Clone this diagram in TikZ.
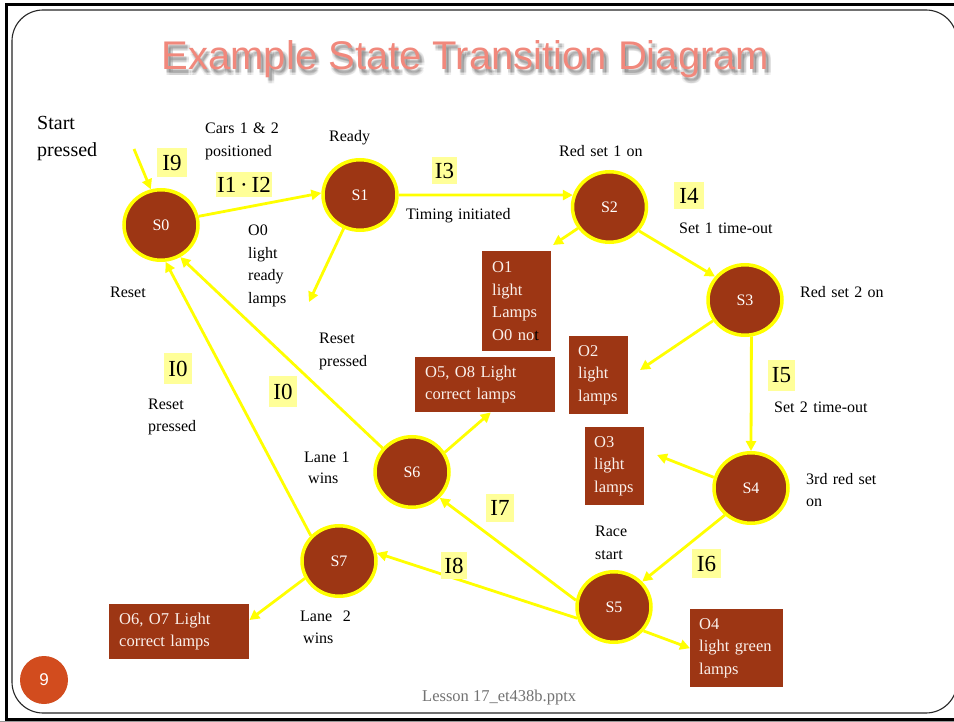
\documentclass[tikz,border=0pt]{standalone}
\usepackage{fontspec}
\setmainfont{Liberation Serif}
\newfontfamily\titlefont{Liberation Sans}
\usetikzlibrary{arrows.meta,calc,shapes.geometric}
\pgfdeclarelayer{bg}
\pgfsetlayers{bg,main}
\definecolor{stbrown}{RGB}{157,54,20}
\definecolor{arrowyellow}{RGB}{255,255,0}
\definecolor{hlyellow}{RGB}{255,255,153}
\definecolor{titlesalmon}{RGB}{241,136,124}
\definecolor{numorange}{RGB}{210,76,30}
\definecolor{boxtext}{RGB}{250,240,235}
\begin{document}
\begin{tikzpicture}[x=1pt,y=-1pt,
  state/.style={ellipse, draw=arrowyellow, line width=3.5pt, fill=stbrown,
    minimum width=74pt, minimum height=70.5pt, inner sep=0pt, text=white,
    font=\fontsize{16}{18}\selectfont},
  flow/.style={draw=arrowyellow, line width=2.8pt, -{Triangle[length=10pt,width=10pt]}},
  lbl/.style={anchor=base west, inner sep=0pt, text width=130pt, align=left,
    font=\fontsize{16}{22.5}\selectfont},
  ilbl/.style={fill=hlyellow, inner sep=0pt, font=\fontsize{23}{25}\selectfont},
  outbox/.style={fill=stbrown, anchor=north west, inner xsep=10pt, inner ysep=0pt,
    align=left, text=boxtext, font=\fontsize{16.5}{22.5}\selectfont},
  titletext/.style={anchor=base, font=\titlefont\fontsize{40}{48}\selectfont}]
\useasboundingbox (0,0) rectangle (954,722);
\begin{pgfonlayer}{bg}
\fill[white] (0,0) rectangle (954,722);
\end{pgfonlayer}
% frame
\draw[line width=3pt] (957,4.8) -- (6,4.8) -- (6,719.3) -- (957,719.3);
\draw[line width=1pt, black!40] (0,721.5) -- (957,721.5);
\draw[line width=1.1pt, draw=black!85, rounded corners=31pt] (12,10) rectangle (957,713);
% title with blurred shadow
\foreach \dx in {1.5,3,4.5}{
  \foreach \dy in {2.5,4,5.5}{
    \node[titletext, text=black, opacity=0.06] (tsh-\dx-\dy) at (465.5+\dx,70+\dy)
      {Example State Transition Diagram};
  }
}
\node[titletext, text=titlesalmon] (title) at (465.5,70) {Example State Transition Diagram};
% states
\node[state] (S0) at (161,225) {S0};
\node[state] (S1) at (360,195) {S1};
\node[state] (S2) at (609.5,207) {S2};
\node[state] (S3) at (745,300) {S3};
\node[state] (S4) at (751,488) {S4};
\node[state] (S5) at (614,607) {S5};
\node[state] (S6) at (412,472) {S6};
\node[state] (S7) at (339,561) {S7};
% output boxes
\node[outbox, text width=49pt, minimum height=100pt] (O1) at (482,251)
  {O1\\light\\Lamps\\O0 no\textcolor{black}{t}};
\node[outbox, inner xsep=9pt, text width=41pt, minimum height=78pt] (O2) at (569,336)
  {O2\\light\\lamps};
\node[outbox, text width=120pt, minimum height=55pt] (O58) at (415,357)
  {O5, O8 Light\\correct lamps};
\node[outbox, inner xsep=9pt, text width=41pt, minimum height=78pt] (O3) at (585,427)
  {O3\\light\\lamps};
\node[outbox, inner xsep=9pt, text width=75pt, minimum height=78pt] (O4) at (690,609)
  {O4\\light green\\lamps};
\node[outbox, text width=120pt, minimum height=55pt] (O67) at (109,604)
  {O6, O7 Light\\correct lamps};
% input labels
\node[ilbl, minimum width=30pt, minimum height=29pt] (I9) at (172,162.5) {I9};
\node[ilbl, minimum width=56pt, minimum height=25pt] (I12) at (244,184.5) {I1\,·\,I2};
\node[ilbl, minimum width=25pt, minimum height=27pt] (I3) at (444.5,170.5) {I3};
\node[ilbl, minimum width=30pt, minimum height=27pt] (I4) at (689,195.5) {I4};
\node[ilbl, minimum width=27pt, minimum height=31pt] (I5) at (781.5,375.5) {I5};
\node[ilbl, minimum width=29pt, minimum height=29pt] (I6) at (706.5,563.5) {I6};
\node[ilbl, minimum width=28pt, minimum height=28pt] (I7) at (500,508) {I7};
\node[ilbl, minimum width=26pt, minimum height=27pt] (I8) at (454,565.5) {I8};
\node[ilbl, minimum width=28pt, minimum height=31pt] (I0a) at (178,368.5) {I0};
\node[ilbl, minimum width=28pt, minimum height=31pt] (I0b) at (283,391.5) {I0};
% text labels
\node[lbl, font=\fontsize{20}{27}\selectfont] (startlbl) at (37,130) {Start\\pressed};
\node[lbl, font=\fontsize{16}{23}\selectfont] (cars) at (205,134) {Cars 1 \& 2\\positioned};
\node[lbl] (ready) at (329,142) {Ready};
\node[lbl] (timing) at (406,220) {Timing initiated};
\node[lbl] (red1) at (559,157) {Red set 1 on};
\node[lbl] (set1) at (679,234) {Set 1 time-out};
\node[lbl] (red2) at (800,298) {Red set 2 on};
\node[lbl] (o0lbl) at (248,236) {O0\\light\\ready\\lamps};
\node[lbl] (reset0) at (110,298) {Reset};
\node[lbl] (resetmid) at (319,344) {Reset\\pressed};
\node[lbl] (resetleft) at (148,409) {Reset\\pressed};
\node[lbl, font=\fontsize{16}{21.5}\selectfont] (lane1) at (304,462) {Lane 1\\\hspace*{4pt}wins};
\node[lbl, font=\fontsize{16}{22}\selectfont] (lane2) at (300,621) {Lane\ \ 2\\\hspace*{3pt}wins};
\node[lbl] (set2) at (774,412) {Set 2 time-out};
\node[lbl, font=\fontsize{16}{22}\selectfont] (red3) at (806,484) {3rd red set\\on};
\node[lbl, font=\fontsize{16}{23}\selectfont] (race) at (595,536) {Race\\start};
\node[anchor=base west, inner sep=0pt, text=black!55, font=\fontsize{16.5}{20}\selectfont]
  (lesson) at (422,701) {Lesson 17\_et438b.pptx};
% slide number
\node[circle, fill=numorange, minimum size=48pt, inner sep=0pt, text=white,
  font=\titlefont\fontsize{17}{20}\selectfont] (pgnum) at (44,680) {9};
% free ends
\coordinate (startpt) at (134,149);
\coordinate (o0end) at (309,302);
\coordinate (o1end) at (553,245);
\coordinate (o2end) at (640,370);
\coordinate (o3end) at (657,455);
\coordinate (o58pt) at ($(O58.south west)!0.54!(O58.south east)$);
\coordinate (o67pt) at ($(O67.north east)!0.29!(O67.south east)$);
% connectors
\begin{pgfonlayer}{bg}
\draw[flow] (startpt) -- (S0.106);
\draw[flow] (S0.13) -- (S1.177);
\draw[flow] (S1.east) -- (S2.162);
\draw[flow] (S1.-116) -- (o0end);
\draw[flow] (S2.214) -- (o1end);
\draw[flow] (S2.-39) -- (S3.142);
\draw[flow] (S3.213) -- (o2end);
\draw[flow] (S3.-80) -- (S4.north);
\draw[flow] (S4.164) -- (o3end);
\draw[flow] (S4.226) -- (S5.42);
\draw[flow] (S5.-39) -- (O4.west);
\draw[flow] (S5.170) -- (S6.-43);
\draw[flow] (S5.197) -- (S7.12);
\draw[flow] (S6.31) -- (o58pt);
\draw[flow] (S6.141) -- (S0.-59);
\draw[flow] (S7.138) -- (S0.-83);
\draw[flow] (S7.207) -- (o67pt);
\end{pgfonlayer}
\end{tikzpicture}
\end{document}
